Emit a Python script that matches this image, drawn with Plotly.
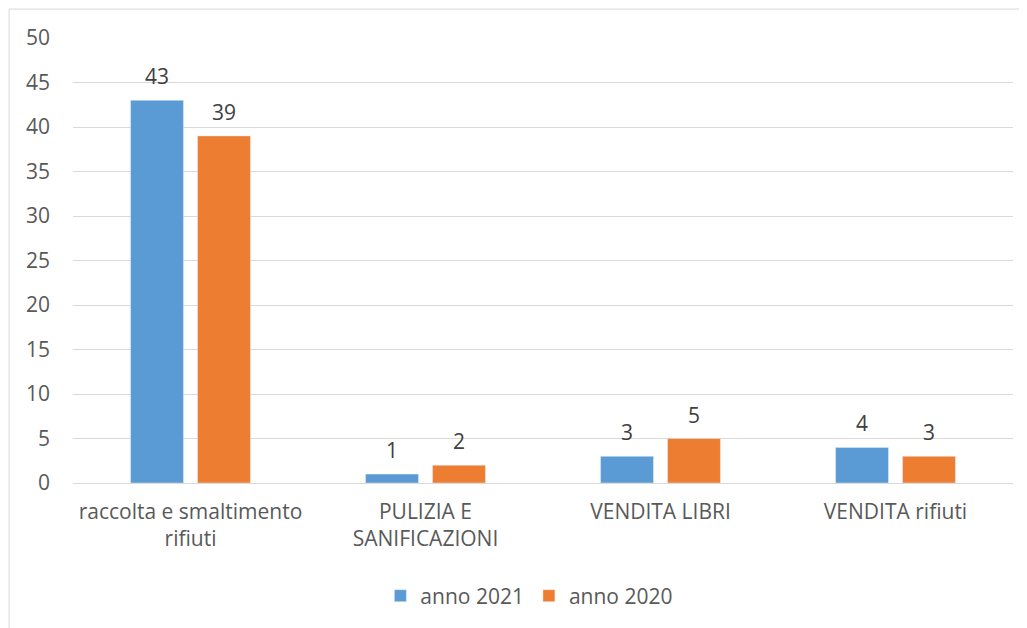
import plotly.graph_objects as go

categorie = ["raccolta e smaltimento<br>rifiuti", "PULIZIA E<br>SANIFICAZIONI", "VENDITA LIBRI", "VENDITA rifiuti"]
anno_2021 = [43, 1, 3, 4]
anno_2020 = [39, 2, 5, 3]

font = "Open Sans"
grigio = "#595959"

fig = go.Figure()
fig.add_trace(go.Bar(x=categorie, y=anno_2021, name="anno 2021", marker_color="#5b9bd5"))
fig.add_trace(go.Bar(x=categorie, y=anno_2020, name="anno 2020", marker_color="#ed7d31"))

# etichette dei valori sopra le barre
for valori, dx in ((anno_2021, -33.5), (anno_2020, 33.5)):
    for c, v in zip(categorie, valori):
        fig.add_annotation(x=c, y=v, text=str(v), showarrow=False, xshift=dx, yshift=8,
                           yanchor="bottom", font=dict(size=21, color="#404040"))

# la pagina ha 8px di margine: la figura resta dentro la finestra
fig.update_layout(
    width=1019, height=620,
    margin=dict(l=65, r=14, t=30, b=145),
    paper_bgcolor="white", plot_bgcolor="white",
    font=dict(family=font, size=21, color=grigio),
    barmode="group", bargap=0.43, bargroupgap=0.21,
    legend=dict(orientation="h", x=0.4855, xanchor="center", y=-0.254, yanchor="middle",
                font=dict(size=21, color=grigio), itemwidth=30, tracegroupgap=0),
    xaxis=dict(showgrid=False, ticks="", automargin=False, ticklabelstandoff=14,
               tickfont=dict(size=21, color=grigio)),
    yaxis=dict(range=[0, 50], dtick=5, showgrid=True, gridcolor="#d9d9d9", gridwidth=1,
               zeroline=True, zerolinecolor="#d9d9d9", zerolinewidth=1, automargin=False,
               ticks="", ticklabelstandoff=22, tickfont=dict(size=21, color=grigio)),
    shapes=[dict(type="rect", xref="paper", yref="paper", x0=-0.068, x1=1.1, y0=-0.4, y1=1.065,
                 line=dict(color="#d9d9d9", width=1), fillcolor="rgba(0,0,0,0)", layer="below")],
)

fig.write_html("out.html")
